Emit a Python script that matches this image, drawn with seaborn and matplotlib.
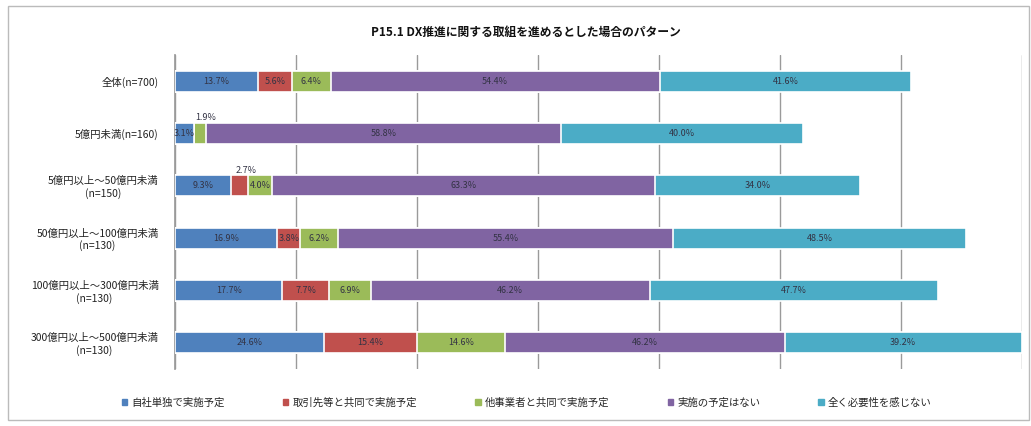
import numpy as np
import pandas as pd
import matplotlib
matplotlib.use("Agg")
import matplotlib.pyplot as plt
import seaborn as sns
from matplotlib.patches import Rectangle

categories = ["全体(n=700)", "5億円未満(n=160)", "5億円以上～50億円未満\n(n=150)",
              "50億円以上～100億円未満\n(n=130)", "100億円以上～300億円未満\n(n=130)",
              "300億円以上～500億円未満\n(n=130)"]
series_names = ["自社単独で実施予定", "取引先等と共同で実施予定", "他事業者と共同で実施予定",
                "実施の予定はない", "全く必要性を感じない"]
s1 = [13.7, 3.1, 9.3, 16.9, 17.7, 24.6]
s2 = [5.6, 0.0, 2.7, 3.8, 7.7, 15.4]
s3 = [6.4, 1.9, 4.0, 6.2, 6.9, 14.6]
s4 = [54.4, 58.8, 63.3, 55.4, 46.2, 46.2]
s5 = [41.6, 40.0, 34.0, 48.5, 47.7, 39.2]
colors = ["#4F81BD", "#C0504D", "#9BBB59", "#8064A2", "#4BACC6"]
title = "P15.1 DX推進に関する取組を進めるとした場合のパターン"

sns.set_theme(style="white")
plt.rcParams['font.family'] = ['Noto Sans CJK JP', 'DejaVu Sans']

fig = plt.figure(figsize=(10.31, 4.26), dpi=100)
ax = fig.add_axes([0.170, 0.134, 0.821, 0.737])

series = [s1, s2, s3, s4, s5]
cum = np.cumsum(np.array(series), axis=0)

rows = []
for i, name in enumerate(series_names):
    for j, c in enumerate(categories):
        rows.append({"cat": c, "series": name, "cum": cum[i, j], "val": series[i][j]})
df = pd.DataFrame(rows)

# draw from largest cumulative to smallest so they stack visually
for i in reversed(range(len(series_names))):
    sub = df[df.series == series_names[i]]
    sns.barplot(data=sub, x="cum", y="cat", orient="h", color=colors[i], ax=ax,
                width=0.40, edgecolor="white", linewidth=1.2, order=categories,
                saturation=1, label=series_names[i], zorder=3)

# data labels
for i in range(len(series_names)):
    for j in range(len(categories)):
        v = series[i][j]
        if v == 0:
            continue
        start = cum[i, j] - v
        mid = start + v / 2
        if v >= 3.0:
            ax.text(mid, j, f"{v:.1f}%", ha="center", va="center", fontsize=6.5,
                    color="#333344", zorder=5)
        else:
            ax.text(mid + 1.0, j - 0.30, f"{v:.1f}%", ha="center", va="center",
                    fontsize=6.5, color="#333344", zorder=5)

ax.set_xlim(0, 140)
ax.set_ylim(5.5, -0.5)
ax.set_xticks(np.arange(0, 141, 20))
ax.set_xticklabels([])
ax.xaxis.grid(True, color="#9a9a9a", linewidth=1.0, zorder=0)
ax.set_axisbelow(True)
ax.set_xlabel("")
ax.set_ylabel("")
for sp in ["top", "right", "bottom"]:
    ax.spines[sp].set_visible(False)
ax.spines["left"].set_color("#9a9a9a")
ax.tick_params(axis="y", length=0, labelsize=7.5, colors="#222222", pad=12)
ax.tick_params(axis="x", length=0)
for lab in ax.get_yticklabels():
    lab.set_ha("right")
    lab.set_multialignment("center")
# minor ticks between categories
ax.set_yticks(np.arange(-0.5, 6, 1), minor=True)
ax.tick_params(axis="y", which="minor", length=4, color="#9a9a9a", direction="out")

if ax.get_legend() is not None:
    ax.get_legend().remove()
handles = [Rectangle((0, 0), 1, 1, color=c) for c in colors]
fig.legend(handles, series_names, loc="center", bbox_to_anchor=(0.511, 0.054), ncol=5,
           frameon=False, fontsize=7.5, handlelength=0.5, handleheight=0.5,
           columnspacing=5.6, handletextpad=0.4)

fig.text(0.51, 0.925, title, ha="center", va="center", fontsize=8.5,
         color="#111111", fontweight="bold")

fig.patches.append(Rectangle((0.008, 0.015), 0.99, 0.97, transform=fig.transFigure,
                             fill=False, edgecolor="#bbbbbb", linewidth=1.0))

fig.savefig("out.png", dpi=100)
